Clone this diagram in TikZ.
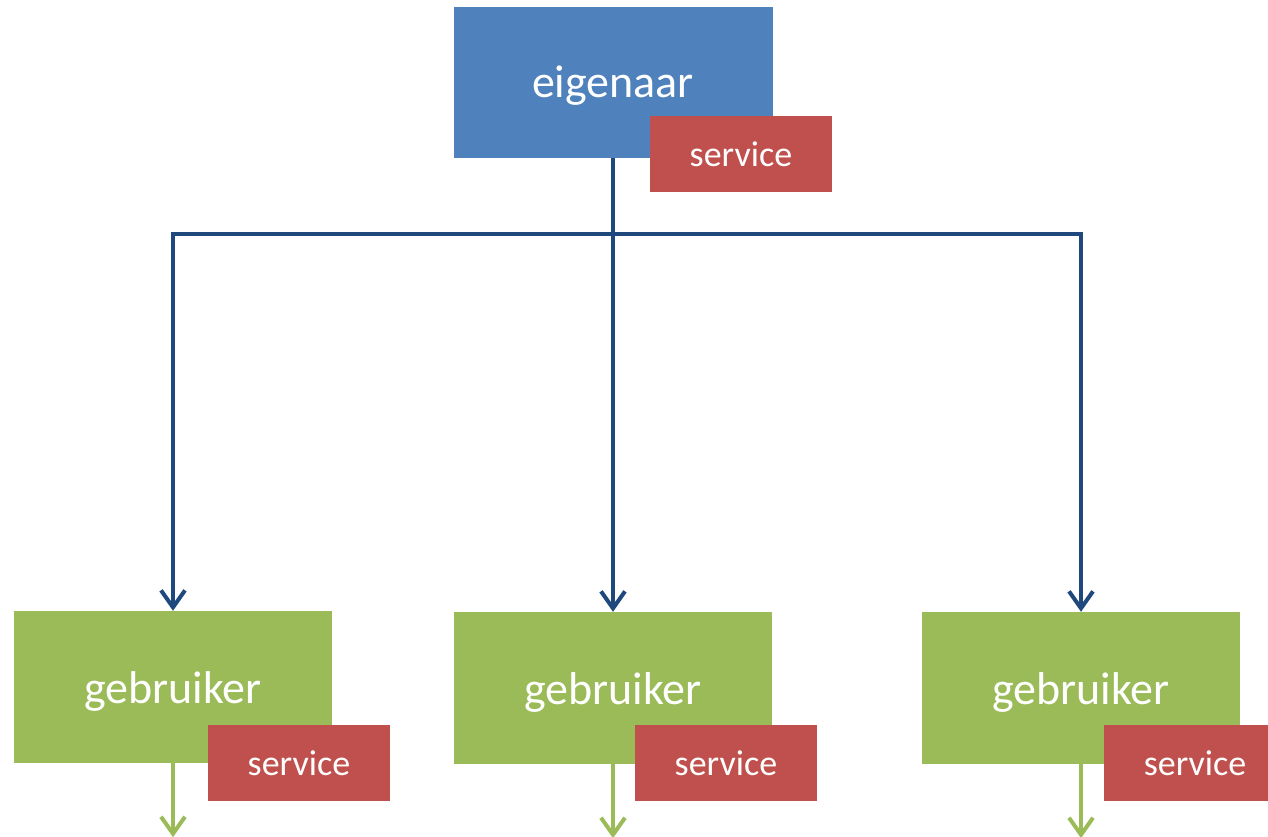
\documentclass[tikz,border=0pt]{standalone}
\usepackage{fontspec}
\setmainfont{Carlito}
\usepackage{tikz}
\usetikzlibrary{arrows.meta}
\definecolor{ownerblue}{HTML}{4F81BD}
\definecolor{usergreen}{HTML}{9BBB59}
\definecolor{svcred}{HTML}{C0504D}
\definecolor{linkblue}{HTML}{1F497D}
\tikzstyle{owner} = [rectangle,minimum width=319pt,minimum height=151pt,fill=ownerblue,text=white,font=\fontsize{46}{50}\selectfont,inner sep=0pt,text height=31pt,text depth=0pt]
\tikzstyle{user} = [rectangle,minimum width=318pt,minimum height=152pt,fill=usergreen,text=white,font=\fontsize{46}{50}\selectfont,inner sep=0pt,text height=32pt,text depth=0pt]
\tikzstyle{svc} = [rectangle,minimum width=182pt,minimum height=76pt,fill=svcred,text=white,font=\fontsize{36}{40}\selectfont,inner sep=0pt,text height=24pt,text depth=0pt]
\tikzstyle{link} = [draw=linkblue,line width=4pt,-{Straight Barb[length=17pt,width=24pt,line width=4pt]}]
\tikzstyle{pass} = [draw=usergreen,line width=4pt,-{Straight Barb[length=17pt,width=24pt,line width=4pt]}]

\begin{document}
\begin{tikzpicture}[x=1pt,y=-1pt]
\useasboundingbox (0,0) rectangle (1268,837);
\node (own) [owner] at (613,82.5) {eigenaar};
\node (own svc) [svc] at (741,154.5) {service};
\node (u1) [user] at (173,687) {gebruiker};
\node (u2) [user] at (613,688) {gebruiker};
\node (u3) [user] at (1081,688) {gebruiker};
\foreach \u/\x in {u1/299,u2/726,u3/1195}
  \node (\u svc) [svc] at (\x,763) {service};
\coordinate (bar) at (613,234);
\foreach \u in {u1,u2,u3}
  \coordinate (\u out) at ([yshift=-74pt]\u.south);

\draw [link] (own.south) -- (u2.north);
\draw [link] (bar) -| (u1.north);
\draw [link] (bar) -| (u3.north);
\foreach \u in {u1,u2,u3}
  \draw [pass] (\u.south) -- (\u out);
\end{tikzpicture}
\end{document}
